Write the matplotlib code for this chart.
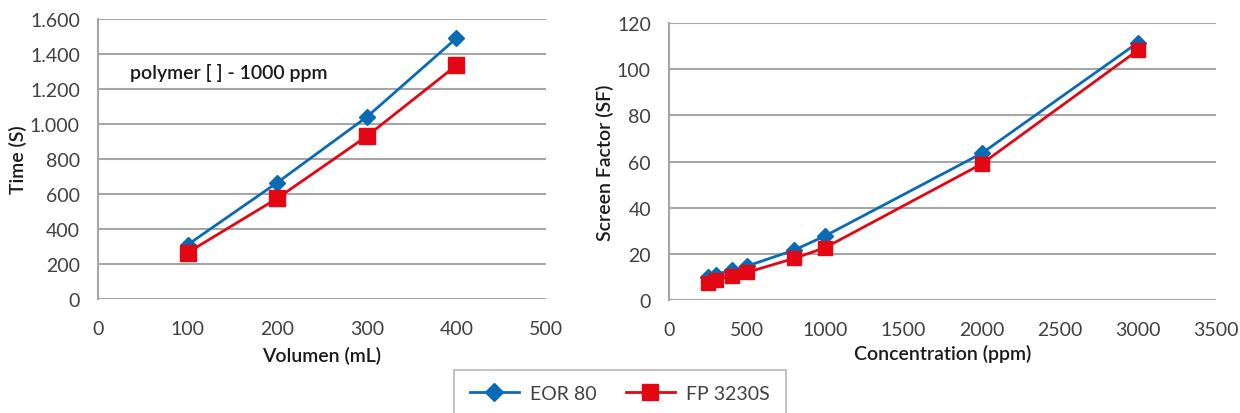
import matplotlib.pyplot as plt
from matplotlib.lines import Line2D

plt.rcParams['font.family'] = ['Lato', 'DejaVu Sans']

# Left chart: time vs volume
volumen = [100, 200, 300, 400]
time_eor = [310, 665, 1040, 1490]
time_fp = [265, 575, 930, 1335]

# Right chart: screen factor vs concentration
conc = [250, 300, 400, 500, 800, 1000, 2000, 3000]
sf_eor = [10, 11, 13, 14.7, 21.6, 27.8, 63.5, 111.5]
sf_fp = [7.2, 8.7, 10.4, 12, 18, 22.7, 58.9, 108.2]

blue = '#0A6BB5'
red = '#E30613'
grid_c = '#A6A6A6'
txt_c = '#404040'
lab_c = '#1a1a1a'

fig = plt.figure(figsize=(12.4, 4.14), dpi=100)
ax1 = fig.add_axes([98/1240, 114/414, 448/1240, 280/414])
ax2 = fig.add_axes([669/1240, 113/414, 547/1240, 277/414])


def style(ax, xlab, ylab, ylab_x, xlab_y):
    for s in ['top', 'right', 'bottom']:
        ax.spines[s].set_visible(False)
    ax.spines['left'].set_color(grid_c)
    ax.spines['left'].set_linewidth(1.5)
    ax.grid(True, axis='y', color=grid_c, linewidth=1.5)
    ax.set_axisbelow(True)
    ax.tick_params(length=0, labelsize=14, labelcolor=txt_c)
    ax.tick_params(axis='x', pad=15)
    ax.tick_params(axis='y', pad=13)
    ax.set_xlabel(xlab, fontsize=14, color=lab_c, fontweight='semibold')
    ax.set_ylabel(ylab, fontsize=14, color=lab_c, fontweight='semibold')
    ax.xaxis.set_label_coords(0.5, xlab_y)
    ax.yaxis.set_label_coords(ylab_x, 0.5)
    ax.xaxis.label.set_va('center')
    ax.yaxis.label.set_va('center')


ax1.plot(volumen, time_eor, color=blue, lw=2, marker='D', ms=8.5, zorder=3)
ax1.plot(volumen, time_fp, color=red, lw=2, marker='s', ms=12, zorder=4)
ax1.set_xlim(0, 500)
ax1.set_ylim(0, 1600)
ax1.set_xticks(range(0, 501, 100))
ax1.set_yticks(range(0, 1601, 200))
ax1.set_yticklabels(['0', '200', '400', '600', '800', '1.000', '1.200', '1.400', '1.600'])
ax1.text(36, 1300, 'polymer [ ] - 1000 ppm', fontsize=14, color=lab_c,
         fontweight='semibold', ha='left', va='center')
style(ax1, 'Volumen (mL)', 'Time (S)', -0.179, -0.199)

ax2.plot(conc, sf_eor, color=blue, lw=2, marker='D', ms=8, zorder=3)
ax2.plot(conc, sf_fp, color=red, lw=2, marker='s', ms=10.5, zorder=4)
ax2.set_xlim(0, 3500)
ax2.set_ylim(0, 120)
ax2.set_xticks(range(0, 3501, 500))
ax2.set_yticks(range(0, 121, 20))
style(ax2, 'Concentration (ppm)', 'Screen Factor (SF)', -0.117, -0.191)

handles = [
    Line2D([], [], color=blue, lw=2, marker='D', ms=9),
    Line2D([], [], color=red, lw=2, marker='s', ms=11),
]
leg = fig.legend(handles, ['EOR 80', 'FP 3230S'], loc='lower center',
                 bbox_to_anchor=(0.5, -0.035), ncol=2, fontsize=14,
                 frameon=True, fancybox=False, handlelength=2.5,
                 handletextpad=0.6, columnspacing=1.5, borderpad=0.8)
leg.get_frame().set_edgecolor(grid_c)
leg.get_frame().set_linewidth(1.2)
for t in leg.get_texts():
    t.set_color(txt_c)

fig.savefig('out.png', dpi=100)
